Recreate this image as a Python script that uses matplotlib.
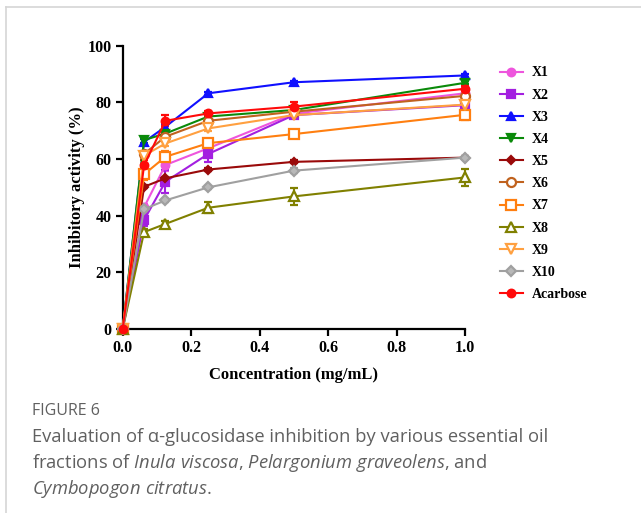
import matplotlib.pyplot as plt
from matplotlib.lines import Line2D

# concentrations (mg/mL)
conc = [0, 0.0625, 0.125, 0.25, 0.5, 1.0]

names = ["X1", "X2", "X3", "X4", "X5", "X6", "X7", "X8", "X9", "X10", "Acarbose"]

x1 = [0, 43.0, 57.9, 63.8, 76.0, 83.2]
x2 = [0, 38.5, 52.0, 61.8, 75.5, 79.0]
x3 = [0, 66.0, 71.4, 83.2, 87.1, 89.5]
x4 = [0, 66.7, 69.0, 75.0, 77.3, 86.9]
x5 = [0, 50.2, 53.2, 56.3, 59.0, 60.5]
x6 = [0, 61.8, 67.9, 73.5, 76.7, 82.3]
x7 = [0, 54.6, 60.8, 65.6, 68.8, 75.6]
x8 = [0, 34.2, 37.1, 42.8, 46.8, 53.5]
x9 = [0, 61.2, 65.5, 70.8, 75.5, 79.2]
x10 = [0, 42.3, 45.4, 50.0, 55.9, 60.5]
acarbose = [0, 57.8, 73.5, 76.1, 78.5, 84.8]

err_x1 = [0, 1.0, 2.0, 1.5, 1.0, 1.0]
err_x2 = [0, 2.0, 4.0, 3.0, 1.0, 1.0]
err_x3 = [0, 1.0, 1.0, 0.5, 0.5, 0.5]
err_x4 = [0, 1.0, 1.0, 0.5, 0.5, 0.5]
err_x5 = [0, 0.5, 0.5, 0.5, 0.5, 0.5]
err_x6 = [0, 1.0, 1.0, 1.0, 1.0, 1.0]
err_x7 = [0, 2.0, 2.0, 1.5, 1.0, 2.0]
err_x8 = [0, 1.0, 1.0, 2.0, 3.0, 3.0]
err_x9 = [0, 1.0, 1.0, 1.0, 1.0, 1.0]
err_x10 = [0, 1.0, 0.5, 0.5, 1.0, 0.5]
err_acarbose = [0, 2.0, 2.0, 1.0, 1.5, 1.0]

series = [x1, x2, x3, x4, x5, x6, x7, x8, x9, x10, acarbose]
errors = [err_x1, err_x2, err_x3, err_x4, err_x5, err_x6, err_x7, err_x8, err_x9, err_x10, err_acarbose]

colors = ["#EE55DD", "#A31FE0", "#1010FF", "#0A8A0A", "#9A0A0A", "#C0621E",
          "#FF7F10", "#808000", "#FFA040", "#A0A0A0", "#FF0A0A"]
markers = ["o", "s", "^", "v", "D", "o", "s", "^", "v", "D", "o"]
filled = [True, True, True, True, True, False, False, False, False, True, True]
msizes = [5.5, 5.5, 5.5, 5.5, 4, 6.5, 6.5, 7.5, 6.5, 5.5, 5.5]

plt.rcParams['mathtext.fontset'] = 'custom'
plt.rcParams['mathtext.rm'] = 'Open Sans'
plt.rcParams['mathtext.it'] = 'Open Sans:italic'

fig = plt.figure(figsize=(6.41, 5.13), dpi=100)
ax = fig.add_axes([0.1914, 0.3587, 0.5340, 0.5522])

handles = []
for i in range(len(names)):
    face = colors[i] if filled[i] else "white"
    if names[i] == "X10":
        face = "#B8B8B8"
    ax.errorbar(conc, series[i], yerr=errors[i], color=colors[i], lw=1.5,
                marker=markers[i], markersize=msizes[i], markerfacecolor=face,
                markeredgecolor=colors[i], markeredgewidth=1.6,
                capsize=3, elinewidth=1.5, capthick=1.5, clip_on=False, zorder=3)
    handles.append(Line2D([], [], color=colors[i], lw=1.5, marker=markers[i],
                          markersize=msizes[i], markerfacecolor=face,
                          markeredgecolor=colors[i], markeredgewidth=1.6))

ax.set_xlim(0, 1.0)
ax.set_ylim(0, 100)
ax.set_xticks([0.0, 0.2, 0.4, 0.6, 0.8, 1.0])
ax.set_xticklabels(["0.0", "0.2", "0.4", "0.6", "0.8", "1.0"])
ax.set_yticks([0, 20, 40, 60, 80, 100])

for s in ["top", "right"]:
    ax.spines[s].set_visible(False)
for s in ["left", "bottom"]:
    ax.spines[s].set_linewidth(1.6)

ax.tick_params(direction="out", length=5, width=1.6, labelsize=11.5, pad=3)
for lab in ax.get_xticklabels() + ax.get_yticklabels():
    lab.set_fontfamily("Liberation Serif")
    lab.set_fontweight("bold")

ax.set_xlabel("Concentration (mg/mL)", fontfamily="Liberation Serif",
              fontweight="bold", fontsize=12, labelpad=8)
ax.set_ylabel("Inhibitory activity (%)", fontfamily="Liberation Serif",
              fontweight="bold", fontsize=12, labelpad=2)

fig.legend(handles, names, loc="upper left", bbox_to_anchor=(0.761, 0.895),
           frameon=False, handlelength=1.6, labelspacing=0.66, handletextpad=0.65,
           prop={"family": "Liberation Serif", "weight": "bold", "size": 10})

# frame lines of the figure panel
fig.add_artist(Line2D([6 / 641, 6 / 641], [0, 1 - 7 / 513], color="#D5D5D5", lw=1.2,
                      transform=fig.transFigure))
fig.add_artist(Line2D([6 / 641, 1], [1 - 7 / 513, 1 - 7 / 513], color="#D5D5D5", lw=1.2,
                      transform=fig.transFigure))

# caption
cap_color = "#606060"
fig.text(32 / 641, 1 - 411 / 513, "FIGURE 6", fontfamily="Open Sans", fontsize=11.5,
         color=cap_color, va="center")
fig.text(32 / 641, 1 - 437 / 513, "Evaluation of \u03b1-glucosidase inhibition by various essential oil",
         fontfamily="Open Sans", fontsize=13.2, color=cap_color, va="center")
fig.text(32 / 641, 1 - 463 / 513,
         r"fractions of $Inula\ viscosa$, $Pelargonium\ graveolens$, and",
         fontfamily="Open Sans", fontsize=13.2, color=cap_color, va="center")
fig.text(32 / 641, 1 - 489 / 513, r"$Cymbopogon\ citratus$.",
         fontfamily="Open Sans", fontsize=13.2, color=cap_color, va="center")

fig.savefig("out.png", dpi=100)
